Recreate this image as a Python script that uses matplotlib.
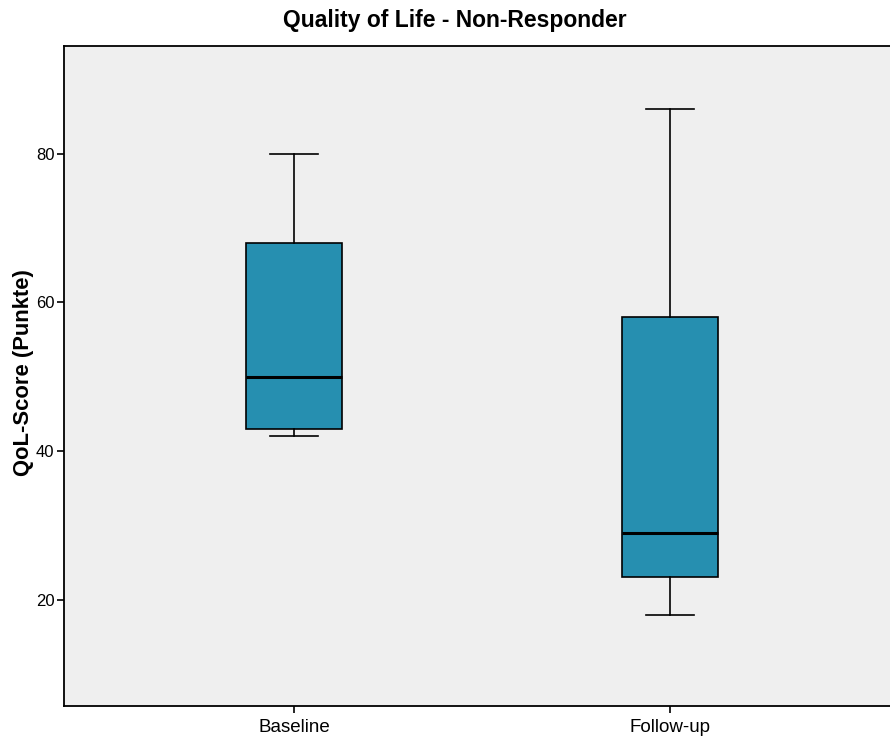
import matplotlib
matplotlib.use("Agg")
import matplotlib.pyplot as plt

plt.rcParams['font.family'] = ['Liberation Sans', 'DejaVu Sans']

categories = ["Baseline", "Follow-up"]
whisker_low = [42, 18]
q1 = [43, 23]
median = [50, 29]
q3 = [68, 58]
whisker_high = [80, 86]
yticks = [20, 40, 60, 80]

fig = plt.figure(figsize=(8.9, 7.47), dpi=100)
ax = fig.add_axes([64/890, 41/747, (900-64)/890, 660/747])
ax.set_facecolor('#EFEFEF')

stats = []
for i, c in enumerate(categories):
    stats.append(dict(label=c, whislo=whisker_low[i], q1=q1[i], med=median[i],
                      q3=q3[i], whishi=whisker_high[i], fliers=[]))

ax.bxp(stats, positions=[1, 2], widths=0.2527, capwidths=0.128,
       patch_artist=True, showfliers=False,
       boxprops=dict(facecolor='#268FB0', edgecolor='black', linewidth=1.2),
       medianprops=dict(color='black', linewidth=2.2),
       whiskerprops=dict(color='black', linewidth=1.2),
       capprops=dict(color='black', linewidth=1.2))

ax.set_xlim(1 - 230/376, 2 + 230/376)
ax.set_ylim(5.7, 94.5)
ax.set_yticks(yticks)
ax.set_yticklabels([str(v) for v in yticks])
ax.tick_params(axis='both', direction='out', length=5, width=1.2, colors='black')
ax.tick_params(axis='y', pad=2, labelsize=12)
ax.tick_params(axis='x', pad=4, labelsize=13.5)
for s in ['left', 'bottom', 'top']:
    ax.spines[s].set_linewidth(1.3)
ax.spines['right'].set_visible(False)

ax.set_ylabel('QoL-Score (Punkte)', fontsize=15.8, fontweight='bold', va='center')
ax.yaxis.set_label_coords((24 - 64) / 836, (706 - 373) / 660)
fig.text(455/890, 1 - 21/747, 'Quality of Life - Non-Responder', ha='center', va='center',
         fontsize=16.5, fontweight='bold')

fig.savefig('out.png', dpi=100)
